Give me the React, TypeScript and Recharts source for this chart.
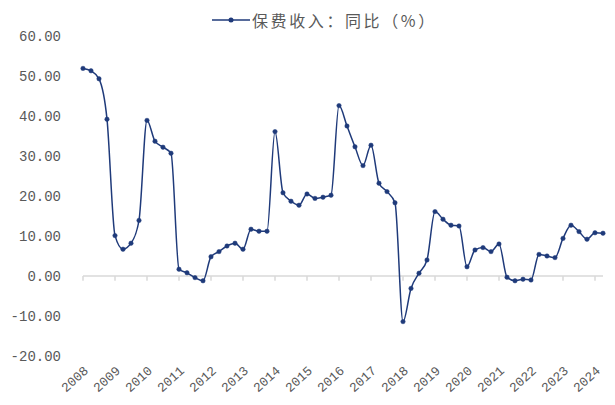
import React from 'react';
import { LineChart, Line, XAxis, YAxis, ReferenceLine } from 'recharts';

// 保费收入同比，季度，2008Q1 - 2024Q2
const years = [
  '2008', '2009', '2010', '2011', '2012', '2013', '2014', '2015', '2016',
  '2017', '2018', '2019', '2020', '2021', '2022', '2023', '2024',
];
const quarters = ['Q1', 'Q2', 'Q3', 'Q4'];

const yoy = [
  51.9, 51.3, 49.3, 39.2,
  10.1, 6.7, 8.2, 13.9,
  38.9, 33.7, 32.2, 30.7,
  1.7, 0.8, -0.4, -1.2,
  4.8, 6.1, 7.5, 8.2,
  6.7, 11.7, 11.2, 11.2,
  36.1, 20.8, 18.7, 17.7,
  20.5, 19.4, 19.7, 20.2,
  42.6, 37.5, 32.3, 27.6,
  32.7, 23.2, 21.1, 18.3,
  -11.4, -3.1, 0.7, 4.0,
  16.1, 14.2, 12.7, 12.5,
  2.3, 6.5, 7.1, 6.1,
  8.0, -0.3, -1.2, -0.8,
  -1.0, 5.4, 5.0, 4.6,
  9.4, 12.7, 11.1, 9.2,
  10.8, 10.7,
];

const yTicks = [-20, -10, 0, 10, 20, 30, 40, 50, 60];

const periods = years.flatMap((y) => quarters.map((q) => `${y}${q}`)).slice(0, yoy.length);
const data = periods.map((p, i) => ({ period: p, value: yoy[i] }));
const yearTicks = years.map((y) => `${y}Q1`);

const LINE_COLOR = '#1f3a7a';
const AXIS_GRAY = '#d9d9d9';
const TEXT_GRAY = '#595959';
const NUM_FONT = '"Liberation Mono", monospace';

const Legend = () => (
  <div
    style={{
      position: 'absolute',
      left: 212,
      top: 8,
      display: 'flex',
      alignItems: 'center',
      fontFamily: '"Noto Sans CJK SC", sans-serif',
      fontSize: 16,
      letterSpacing: 2.6,
      color: TEXT_GRAY,
      whiteSpace: 'nowrap',
    }}
  >
    <svg width={38} height={10} style={{ marginRight: 2 }}>
      <line x1={0} y1={5} x2={38} y2={5} stroke={LINE_COLOR} strokeWidth={1.5} />
      <circle cx={19} cy={5} r={2.5} fill={LINE_COLOR} />
    </svg>
    <span>保费收入：同比（%）</span>
  </div>
);

export default function App() {
  return (
    <div style={{ position: 'absolute', left: 0, top: 0, width: 615, height: 405, background: '#fff' }}>
      <LineChart
        width={615}
        height={405}
        data={data}
        margin={{ top: 36, right: 12, bottom: 0, left: 0 }}
      >
        <XAxis
          dataKey="period"
          ticks={yearTicks}
          interval={0}
          axisLine={false}
          tickLine={false}
          tickSize={0}
          tickMargin={9}
          angle={-42}
          textAnchor="end"
          height={49}
          tickFormatter={(v: string) => v.slice(0, 4)}
          tick={{ fill: TEXT_GRAY, fontSize: 13, fontFamily: NUM_FONT }}
        />
        <YAxis
          domain={[-20, 60]}
          ticks={yTicks}
          interval={0}
          width={83}
          axisLine={false}
          tickLine={false}
          tickSize={0}
          tickMargin={22}
          tickFormatter={(v: number) => v.toFixed(2)}
          tick={{ fill: TEXT_GRAY, fontSize: 14, fontFamily: NUM_FONT }}
        />
        <ReferenceLine y={0} stroke={AXIS_GRAY} strokeWidth={1.5} />
        {yearTicks.map((t) => (
          <ReferenceLine
            key={t}
            segment={[{ x: t, y: 0 }, { x: t, y: -1.2 }]}
            stroke={AXIS_GRAY}
            strokeWidth={1.5}
          />
        ))}
        <Line
          type="monotone"
          dataKey="value"
          stroke={LINE_COLOR}
          strokeWidth={1.5}
          dot={{ r: 2.2, fill: LINE_COLOR, stroke: LINE_COLOR, strokeWidth: 0.5 }}
          activeDot={false}
          isAnimationActive={false}
        />
      </LineChart>
      <Legend />
    </div>
  );
}
